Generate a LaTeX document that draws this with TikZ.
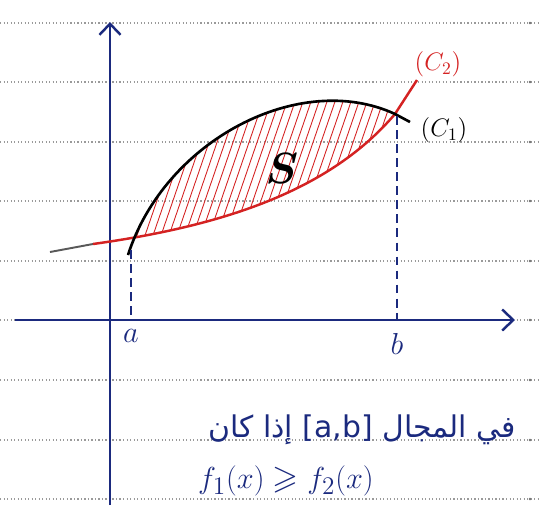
\documentclass[tikz,border=0pt]{standalone}
\usepackage{amsmath,amssymb}
\usepackage{fontspec}
\usepackage{tikz}
\usetikzlibrary{arrows.meta}
\newfontfamily\arabicfont[Script=Arabic]{DejaVu Sans}
\TeXXeTstate=1
\definecolor{inknavy}{HTML}{1B2A7E}
\definecolor{inkred}{HTML}{D42222}
\definecolor{paperdot}{HTML}{9A9A9A}

\begin{document}
\begin{tikzpicture}[x=0.02cm, y=-0.02cm,
    axisline/.style={line width=1.4pt, draw=inknavy, -{Straight Barb[length=2.2mm, width=4.2mm, line width=1.4pt]}},
    dropline/.style={line width=1.1pt, draw=inknavy, dash pattern=on 5pt off 3pt},
    hatchline/.style={line width=0.5pt, draw=inkred},
    ruleline/.style={line width=0.7pt, draw=paperdot, dash pattern=on 0.7pt off 1.3pt}]
    \useasboundingbox (0,0) rectangle (541,518);

    % Notebook lines
    \foreach \y in {23,82,142,201,261,320,380,440,499} {
        \draw[ruleline] (0,\y) -- (541,\y);
        \fill[paperdot!70!black] (530,\y) circle (1.4);
    }

    % Curve ends
    \coordinate (C1start) at (128,255);
    \coordinate (C2start) at (93,244);
    \coordinate (Meet) at (395,114);

    % Hatched region S
    \begin{scope}
        \clip (133,0) rectangle (541,518);
        \clip (C1start) .. controls (165,140) and (300,70) .. (Meet)
            .. controls (332,188) and (230,225) .. (C2start) -- cycle;
        \foreach \x in {60,68,...,400}
            \draw[hatchline] (\x,250) -- ++(55,-160);
    \end{scope}

    % Axes
    \coordinate (O) at (110,320);
    \draw[axisline] (15,320) -- (515,320);
    \draw[axisline] (110,505) -- (110,22);

    % Curve C2
    \draw[line width=1.1pt, draw=gray!70!black] (50,252) -- (C2start);
    \draw[line width=1.4pt, draw=inkred] (C2start) .. controls (230,225) and (332,188) .. (Meet) -- (417,80);
    \node[text=inkred, font=\Large] (labC2) at (438,64) {$(C_2)$};

    % Curve C1
    \draw[line width=1.5pt, draw=black] (C1start) .. controls (165,140) and (300,70) .. (Meet) -- (410,122);
    \node[text=black, font=\Large] (labC1) at (444,130) {$(C_1)$};

    \node[font=\fontsize{40}{40}\selectfont] (labS) at (282,168) {$\boldsymbol{S}$};

    % Bounds a and b
    \coordinate (Atop) at (131,250);
    \coordinate (Bt) at (397,116);
    \coordinate (Abot) at (131,320);
    \coordinate (Bbot) at (397,320);
    \draw[dropline] (Atop) -- (Abot);
    \draw[dropline] (Bt) -- (Bbot);
    \node[text=inknavy, font=\LARGE, below=2pt] (labA) at (Abot) {$a$};
    \node[text=inknavy, font=\LARGE, below=4pt] (labB) at (Bbot) {$b$};

    % Condition
    \node[text=inknavy, anchor=east, font=\arabicfont\fontsize{17}{20}\selectfont] (cond) at (522,430)
        {\beginR في المجال \beginL[a,b]\endL{} إذا كان\endR};
    \node[text=inknavy, anchor=west, font=\fontsize{19}{23}\selectfont] (ineq) at (192,481) {$f_1(x) \geqslant f_2(x)$};
\end{tikzpicture}
\end{document}
